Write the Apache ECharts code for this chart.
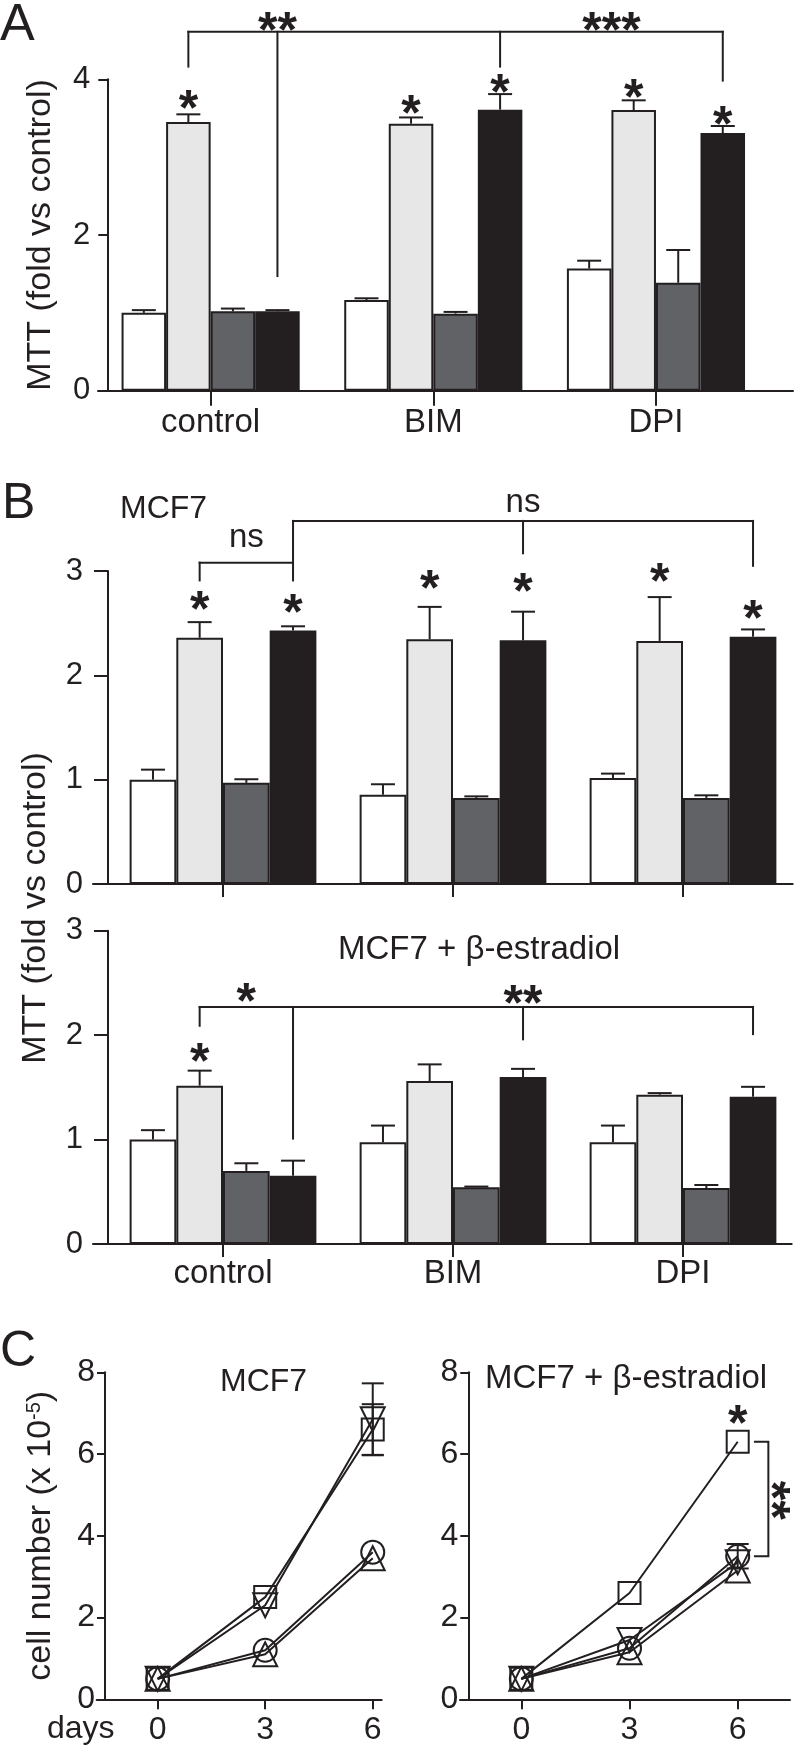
<!DOCTYPE html>
<html><head><meta charset="utf-8">
<script src="https://cdn.jsdelivr.net/npm/echarts@6/dist/echarts.min.js"></script>
<style>html,body{margin:0;padding:0;background:#fff}#c{width:800px;height:1754px}</style>
</head><body><div id="c"></div>
<script>
// ---------------- DATA ----------------
const categories = ['control', 'BIM', 'DPI'];
// Panel A : MTT (fold vs control)
const aWhite = [1.00, 1.165, 1.57],  aWhiteErr = [0.035, 0.022, 0.10];
const aLight = [3.45, 3.43, 3.605],  aLightErr = [0.10, 0.08, 0.125];
const aDark  = [1.02, 0.99, 1.387],  aDarkErr  = [0.035, 0.022, 0.42];
const aBlack = [1.02, 3.61, 3.31],   aBlackErr = [0.015, 0.20, 0.09];
const aTicks = [0, 2, 4];
const aStars = [[0, 1, 3.77], [1, 1, 3.71], [1, 3, 3.97], [2, 1, 3.91], [2, 3, 3.57]];
const aLegs  = [[0, 1, 4.15, 4.61], [0, 3, 1.46, 4.61], [1, 3, 4.15, 4.61], [2, 3, 3.97, 4.61]];
const aSpans = [[0, 1, 2, 3, 4.61]];
const aMarks = [[0, 3, 0, 3, 4.77], [1, 3, 2, 3, 4.77]];
const aMarkText = ['**', '***'];
// Panel B top : MCF7
const b1White = [1.00, 0.856, 1.016], b1WhiteErr = [0.096, 0.10, 0.042];
const b1Light = [2.36, 2.346, 2.33],  b1LightErr = [0.15, 0.31, 0.42];
const b1Dark  = [0.97, 0.825, 0.825], b1DarkErr  = [0.034, 0.015, 0.025];
const b1Black = [2.43, 2.336, 2.37],  b1BlackErr = [0.04, 0.274, 0.07];
const b1Stars = [[0, 1, 2.74], [0, 3, 2.71], [1, 1, 2.94], [1, 3, 2.91], [2, 1, 3.01], [2, 3, 2.65]];
const b1Legs  = [[0, 1, 2.90, 3.08], [0, 3, 2.90, 3.48], [1, 3, 3.16, 3.48], [2, 3, 3.04, 3.48]];
const b1Spans = [[0, 1, 0, 3, 3.08], [0, 3, 2, 3, 3.48]];
const b1Marks = [[0, 1, 0, 3, 3.32], [1, 3, 1, 3, 3.65]];
const b1MarkText = ['ns', 'ns'];
// Panel B bottom : MCF7 + beta-estradiol
const b2White = [1.00, 0.974, 0.974], b2WhiteErr = [0.09, 0.16, 0.16];
const b2Light = [1.516, 1.56, 1.43],  b2LightErr = [0.144, 0.16, 0.015];
const b2Dark  = [0.70, 0.543, 0.536], b2DarkErr  = [0.073, 0.007, 0.029];
const b2Black = [0.654, 1.598, 1.41], b2BlackErr = [0.144, 0.079, 0.095];
const bTicks = [0, 1, 2, 3];
const b2Stars = [[0, 1, 1.86]];
const b2Legs  = [[0, 1, 2.08, 2.27], [0, 3, 1.00, 2.27], [1, 3, 1.95, 2.27], [2, 3, 2.00, 2.27]];
const b2Spans = [[0, 1, 2, 3, 2.27]];
const b2Marks = [[0, 1, 0, 3, 2.43], [1, 3, 1, 3, 2.41]];
const b2MarkText = ['*', '**'];
// Panel C : cell number (x 10^-5) vs days
const days = [0, 3, 6];
const cTicks = [0, 2, 4, 6, 8];
const cLeftSquare  = [0.5, 2.50, 6.60], cLeftSquareErr  = [0.05, 0.10, 0.62];
const cLeftDown    = [0.5, 2.30, 6.85], cLeftDownErr    = [0.05, 0.10, 0.88];
const cLeftCircle  = [0.5, 1.20, 3.60], cLeftCircleErr  = [0.05, 0.08, 0.12];
const cLeftUp      = [0.5, 1.10, 3.45], cLeftUpErr      = [0.05, 0.08, 0.10];
const cRightSquare = [0.5, 2.60, 6.30], cRightSquareErr = [0.05, 0.10, 0.10];
const cRightDown   = [0.5, 1.45, 3.35], cRightDownErr   = [0.05, 0.15, 0.12];
const cRightCircle = [0.5, 1.25, 3.50], cRightCircleErr = [0.05, 0.10, 0.30];
const cRightUp     = [0.5, 1.15, 3.15], cRightUpErr     = [0.05, 0.10, 0.10];
const cRightStar = [[6, 7.03]];
const cRightBracket = [[6.45, 6.85, 6.3, 3.5]];
const cRightBracketMark = [[7.24, 4.87]];

// ---------------- STYLE ----------------
const INK = '#231f20';
const FF = '"Liberation Sans", Arial, Helvetica, sans-serif';
const FILLS = ['#ffffff', '#e6e7e6', '#616265', '#231f20'];
const GAP_A = 0.20, GAP_B = 0.188;
const STAR_SIZE = 50;
const STAR_FONT = 'bold ' + STAR_SIZE + 'px ' + FF;
const STAR_DY = 14;
const MIN_ERR_PX = 10;   // GraphPad hides error bars shorter than the symbol

const grids = [], xAxes = [], yAxes = [], series = [];

function addGrid(g) { grids.push(Object.assign({ outerBoundsMode: 'none', containLabel: false }, g)); return grids.length - 1; }

function decoAxisGrid(left, right, top, bottom) {
  const gi = addGrid({ left: left, width: right - left, top: top, height: bottom - top });
  xAxes.push({ type: 'value', gridIndex: gi, min: 0, max: 1, axisLine: { show: true, onZero: false, lineStyle: { color: INK, width: 2 } },
    axisTick: { show: false }, axisLabel: { show: false }, splitLine: { show: false } });
  yAxes.push({ type: 'value', gridIndex: gi, min: 0, max: 1, show: false, splitLine: { show: false } });
  return gi;
}

function barX(api, c, s, gap) {
  const band = api.size([1, 0])[0];
  return api.coord([c, 0])[0] + (s - 1.5) * band * (1 - gap) / 4;
}

function barPanel(opt) {
  const gi = addGrid(opt.grid);
  xAxes.push({ type: 'category', gridIndex: gi, data: categories,
    axisLine: { show: false },
    axisTick: { show: true, alignWithLabel: true, length: opt.catTick, lineStyle: { color: INK, width: 2 } },
    axisLabel: { show: opt.catLabels, margin: opt.catMargin, fontSize: 33, color: INK, fontFamily: FF },
    splitLine: { show: false } });
  const ya = { type: 'value', gridIndex: gi, min: opt.ticks[0], max: opt.ticks[opt.ticks.length - 1],
    interval: opt.ticks[1] - opt.ticks[0], offset: opt.yOffset,
    axisLine: { show: true, onZero: false, lineStyle: { color: INK, width: 2 } },
    axisTick: { show: true, length: opt.yTick, lineStyle: { color: INK, width: 2 } },
    axisLabel: { margin: opt.yMargin, fontSize: 31, color: INK, fontFamily: FF },
    splitLine: { show: false } };
  if (opt.yName) Object.assign(ya, { name: opt.yName, nameLocation: 'middle', nameGap: opt.nameGap,
    nameTextStyle: { fontSize: 34, color: INK, fontFamily: FF } });
  yAxes.push(ya);
  const gap = opt.gap;
  opt.means.forEach(function (m, s) {
    series.push({ type: 'bar', xAxisIndex: gi, yAxisIndex: gi, data: m, barGap: '0%', barCategoryGap: (gap * 100) + '%',
      itemStyle: { color: FILLS[s], borderColor: INK, borderWidth: 2 }, z: 2, silent: true });
  });
  // error bars
  const ed = [];
  opt.means.forEach(function (m, s) { m.forEach(function (v, c) { ed.push([c, s, v, v + opt.errs[s][c]]); }); });
  series.push({ type: 'custom', xAxisIndex: gi, yAxisIndex: gi, data: ed, z: 5, silent: true, encode: { x: 0, y: 3 },
    renderItem: function (p, api) {
      const x = barX(api, api.value(0), api.value(1), gap);
      const y0 = api.coord([api.value(0), api.value(2)])[1], y1 = api.coord([api.value(0), api.value(3)])[1];
      return { type: 'group', children: [
        { type: 'line', shape: { x1: x, y1: y0, x2: x, y2: y1 }, style: { stroke: INK, lineWidth: 2 } },
        { type: 'line', shape: { x1: x - 12, y1: y1, x2: x + 12, y2: y1 }, style: { stroke: INK, lineWidth: 2 } }] };
    } });
  // stars above bars
  series.push({ type: 'custom', xAxisIndex: gi, yAxisIndex: gi, data: opt.stars, z: 6, silent: true, encode: { x: 0, y: 2 },
    renderItem: function (p, api) {
      const x = barX(api, api.value(0), api.value(1), gap);
      const y = api.coord([api.value(0), api.value(2)])[1];
      return { type: 'text', x: x, y: y + STAR_DY, style: { text: '*', font: STAR_FONT, fill: INK, align: 'center', verticalAlign: 'middle' } };
    } });
  // bracket legs
  series.push({ type: 'custom', xAxisIndex: gi, yAxisIndex: gi, data: opt.legs, z: 6, silent: true, encode: { x: 0, y: 3 },
    renderItem: function (p, api) {
      const x = barX(api, api.value(0), api.value(1), gap);
      const y0 = api.coord([api.value(0), api.value(2)])[1], y1 = api.coord([api.value(0), api.value(3)])[1];
      return { type: 'line', shape: { x1: x, y1: y0, x2: x, y2: y1 - 1 }, style: { stroke: INK, lineWidth: 2 } };
    } });
  // bracket spans
  series.push({ type: 'custom', xAxisIndex: gi, yAxisIndex: gi, data: opt.spans, z: 6, silent: true, encode: { x: 0, y: 4 },
    renderItem: function (p, api) {
      const xa = barX(api, api.value(0), api.value(1), gap), xb = barX(api, api.value(2), api.value(3), gap);
      const y = api.coord([api.value(0), api.value(4)])[1];
      return { type: 'line', shape: { x1: xa - 1, y1: y, x2: xb + 1, y2: y }, style: { stroke: INK, lineWidth: 2 } };
    } });
  // bracket significance labels
  series.push({ type: 'custom', xAxisIndex: gi, yAxisIndex: gi, data: opt.marks, z: 6, silent: true, encode: { x: 0, y: 4 },
    renderItem: function (p, api) {
      const xa = barX(api, api.value(0), api.value(1), gap), xb = barX(api, api.value(2), api.value(3), gap);
      const y = api.coord([api.value(0), api.value(4)])[1];
      const t = opt.markText[p.dataIndex];
      const isStar = t.indexOf('*') >= 0;
      return { type: 'text', x: (xa + xb) / 2, y: y + (isStar ? STAR_DY : 0),
        style: { text: t, font: isStar ? STAR_FONT : ('33px ' + FF), fill: INK, align: 'center', verticalAlign: 'middle' } };
    } });
}

// Panel A
barPanel({ grid: { left: 99.3, width: 668, top: 79.3, height: 311.4 }, ticks: aTicks, yOffset: -8, yTick: 9, yMargin: 17,
  yName: 'MTT (fold vs control)', nameGap: 50, catTick: 15, catLabels: true, catMargin: 16, gap: GAP_A,
  means: [aWhite, aLight, aDark, aBlack], errs: [aWhiteErr, aLightErr, aDarkErr, aBlackErr],
  stars: aStars, legs: aLegs, spans: aSpans, marks: aMarks, markText: aMarkText });
decoAxisGrid(98, 793, 79.3, 390.7);
// Panel B top
barPanel({ grid: { left: 108, width: 690, top: 571, height: 313 }, ticks: bTicks, yOffset: 0, yTick: 14, yMargin: 25,
  catTick: 13, catLabels: false, catMargin: 13, gap: GAP_B,
  means: [b1White, b1Light, b1Dark, b1Black], errs: [b1WhiteErr, b1LightErr, b1DarkErr, b1BlackErr],
  stars: b1Stars, legs: b1Legs, spans: b1Spans, marks: b1Marks, markText: b1MarkText });
decoAxisGrid(93, 792.7, 571, 884);
// Panel B bottom
barPanel({ grid: { left: 108, width: 690, top: 930.7, height: 313.3 }, ticks: bTicks, yOffset: 0, yTick: 14, yMargin: 25,
  catTick: 13, catLabels: true, catMargin: 13, gap: GAP_B,
  means: [b2White, b2Light, b2Dark, b2Black], errs: [b2WhiteErr, b2LightErr, b2DarkErr, b2BlackErr],
  stars: b2Stars, legs: b2Legs, spans: b2Spans, marks: b2Marks, markText: b2MarkText });
decoAxisGrid(93, 791.7, 930.7, 1244);

// Panel C
function linePanel(opt) {
  const gi = addGrid(opt.grid);
  xAxes.push({ type: 'value', gridIndex: gi, min: opt.xMin, max: opt.xMax,
    axisLine: { show: true, onZero: false, lineStyle: { color: INK, width: 2 } },
    axisTick: { show: true, length: 10, customValues: days, lineStyle: { color: INK, width: 2 } },
    axisLabel: { margin: 15, fontSize: 32, color: INK, fontFamily: FF, customValues: days },
    splitLine: { show: false } });
  const ya = { type: 'value', gridIndex: gi, min: cTicks[0], max: cTicks[cTicks.length - 1], interval: cTicks[1] - cTicks[0],
    offset: opt.yOffset,
    axisLine: { show: true, onZero: false, lineStyle: { color: INK, width: 2 } },
    axisTick: { show: true, length: 8, lineStyle: { color: INK, width: 2 } },
    axisLabel: { margin: 10, fontSize: 32, color: INK, fontFamily: FF },
    splitLine: { show: false } };
  if (opt.yName) Object.assign(ya, { name: '{a|cell number (x 10}{s|-5}{a|)}', nameLocation: 'middle', nameGap: opt.nameGap,
    nameTextStyle: { color: INK, fontFamily: FF, fontSize: 34,
      rich: { a: { fontSize: 34, color: INK, fontFamily: FF }, s: { fontSize: 20, color: INK, fontFamily: FF, verticalAlign: 'top', padding: [0, 0, 14, 0] } } } });
  yAxes.push(ya);
  const syms = [
    { symbol: 'rect', size: 22, rot: 0 }, { symbol: 'triangle', size: 24, rot: 180 },
    { symbol: 'circle', size: 23, rot: 0 }, { symbol: 'triangle', size: 24, rot: 0 }];
  opt.vals.forEach(function (v, k) {
    series.push({ type: 'line', xAxisIndex: gi, yAxisIndex: gi, data: days.map(function (d, i) { return [d, v[i]]; }),
      symbol: syms[k].symbol, symbolSize: syms[k].size, symbolRotate: syms[k].rot, showSymbol: true,
      lineStyle: { color: INK, width: 2 }, itemStyle: { color: 'rgba(0,0,0,0)', borderColor: INK, borderWidth: 2 },
      z: 3, silent: true });
    const ed = days.map(function (d, i) { return [d, v[i], opt.errs[k][i]]; });
    series.push({ type: 'custom', xAxisIndex: gi, yAxisIndex: gi, data: ed, z: 4, silent: true, encode: { x: 0, y: 1 },
      renderItem: function (p, api) {
        const x = api.coord([api.value(0), api.value(1)])[0];
        const yt = api.coord([api.value(0), api.value(1) + api.value(2)])[1];
        const yb = api.coord([api.value(0), api.value(1) - api.value(2)])[1];
        if ((yb - yt) / 2 < MIN_ERR_PX) return { type: 'group', children: [] };
        return { type: 'group', children: [
          { type: 'line', shape: { x1: x, y1: yt, x2: x, y2: yb }, style: { stroke: INK, lineWidth: 2 } },
          { type: 'line', shape: { x1: x - 11, y1: yt, x2: x + 11, y2: yt }, style: { stroke: INK, lineWidth: 2 } },
          { type: 'line', shape: { x1: x - 11, y1: yb, x2: x + 11, y2: yb }, style: { stroke: INK, lineWidth: 2 } }] };
      } });
  });
  if (opt.stars) {
    series.push({ type: 'custom', xAxisIndex: gi, yAxisIndex: gi, data: opt.stars, z: 6, silent: true, encode: { x: 0, y: 1 },
      renderItem: function (p, api) {
        const pt = api.coord([api.value(0), api.value(1)]);
        return { type: 'text', x: pt[0], y: pt[1] + STAR_DY, style: { text: '*', font: STAR_FONT, fill: INK, align: 'center', verticalAlign: 'middle' } };
      } });
  }
  if (opt.bracket) {
    series.push({ type: 'custom', xAxisIndex: gi, yAxisIndex: gi, data: opt.bracket, z: 6, silent: true, encode: { x: [0, 1], y: [2, 3] },
      renderItem: function (p, api) {
        const a = api.coord([api.value(0), api.value(2)]), b = api.coord([api.value(1), api.value(3)]);
        return { type: 'polyline', shape: { points: [[a[0], a[1]], [b[0], a[1]], [b[0], b[1]], [a[0], b[1]]] },
          style: { stroke: INK, lineWidth: 2, fill: null } };
      } });
    series.push({ type: 'custom', xAxisIndex: gi, yAxisIndex: gi, data: opt.bracketMark, z: 6, silent: true, encode: { x: 0, y: 1 },
      renderItem: function (p, api) {
        const pt = api.coord([api.value(0), api.value(1)]);
        return { type: 'text', x: pt[0] - STAR_DY, y: pt[1], rotation: -Math.PI / 2,
          style: { text: '**', font: STAR_FONT, fill: INK, align: 'center', verticalAlign: 'middle' } };
      } });
  }
}

linePanel({ grid: { left: 96.7, width: 285, top: 1372.3, height: 327 }, xMin: -1.7, xMax: 6.25, yOffset: -8.3,
  yName: true, nameGap: 47,
  vals: [cLeftSquare, cLeftDown, cLeftCircle, cLeftUp], errs: [cLeftSquareErr, cLeftDownErr, cLeftCircleErr, cLeftUpErr] });
linePanel({ grid: { left: 460, width: 330, top: 1372.3, height: 327 }, xMin: -1.7, xMax: 7.45, yOffset: -8.3,
  vals: [cRightSquare, cRightDown, cRightCircle, cRightUp], errs: [cRightSquareErr, cRightDownErr, cRightCircleErr, cRightUpErr],
  stars: cRightStar, bracket: cRightBracket, bracketMark: cRightBracketMark });

function ttl(text, left, top, size) {
  return { text: text, left: left, top: top, padding: 0, itemGap: 0,
    textStyle: { fontSize: size, fontWeight: 'normal', color: INK, fontFamily: FF } };
}

const chart = echarts.init(document.getElementById('c'), null, { renderer: 'canvas' });
chart.setOption({
  animation: false,
  backgroundColor: '#ffffff',
  title: [
    ttl('A', 0, 0, 52), ttl('B', 2, 479, 50), ttl('C', 0, 1327, 50),
    ttl('MCF7', 120, 493, 32), ttl('MCF7 + β-estradiol', 338, 933, 33),
    ttl('MCF7', 220, 1366, 32), ttl('MCF7 + β-estradiol', 485, 1362, 33),
    ttl('days', 47, 1713, 32)
  ],
  graphic: [{ type: 'text', x: 36, y: 908, rotation: Math.PI / 2, silent: true,
    style: { text: 'MTT (fold vs control)', fontSize: 34, fontFamily: FF, fill: INK, align: 'center', verticalAlign: 'middle' } }],
  grid: grids, xAxis: xAxes, yAxis: yAxes, series: series
});
</script></body></html>
